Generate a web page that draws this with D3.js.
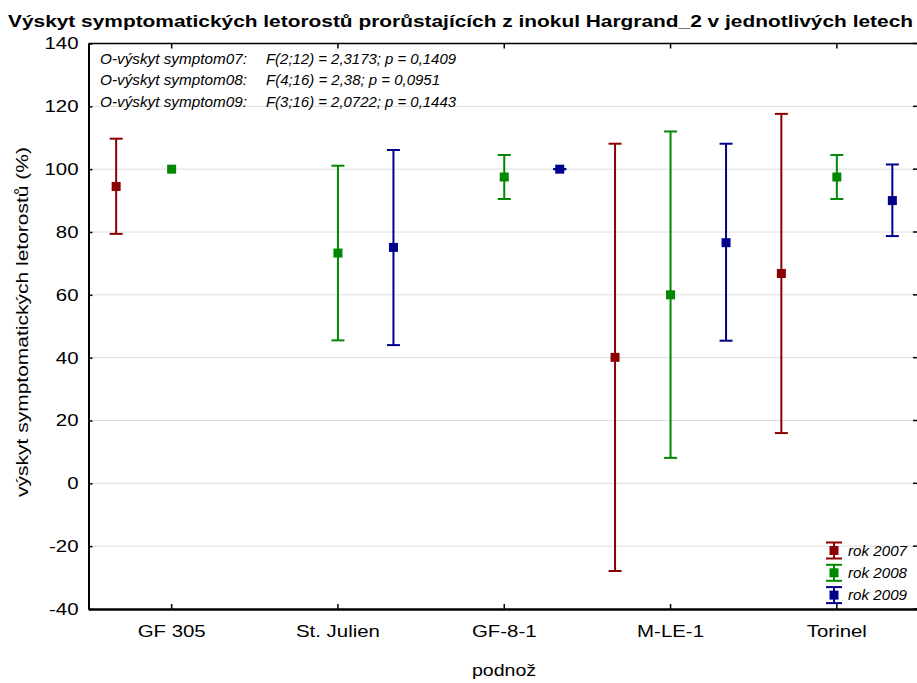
<!DOCTYPE html>
<html>
<head>
<meta charset="utf-8">
<script src="https://cdn.jsdelivr.net/npm/d3@7/dist/d3.min.js"></script>
<style>
    body { margin: 0; background: #fff; }
    text { font-family: "Liberation Sans", Arial, sans-serif; fill: #000; }
</style>
</head>
<body>
<svg id="chart" width="917" height="683"></svg>
<script>
// data
var categories = ["GF 305", "St. Julien", "GF-8-1", "M-LE-1", "Torinel"];
var years = ["rok 2007", "rok 2008", "rok 2009"];
var yTicks = [-40, -20, 0, 20, 40, 60, 80, 100, 120, 140];

var mean2007 = [94.5, null, null, 40.1, 66.8];
var low2007  = [79.4, null, null, -27.9, 16.0];
var high2007 = [109.7, null, null, 108.1, 117.6];

var mean2008 = [100, 73.3, 97.5, 60.0, 97.5];
var low2008  = [null, 45.5, 90.5, 8.1, 90.5];
var high2008 = [null, 101.1, 104.5, 112.0, 104.5];

var mean2009 = [null, 75.1, 100, 76.6, 90.0];
var low2009  = [null, 44.0, 100, 45.4, 78.7];
var high2009 = [null, 106.1, 100, 108.1, 101.5];

var statLabels = ["O-výskyt symptom07:", "O-výskyt symptom08:", "O-výskyt symptom09:"];
var statValues = ["F(2;12) = 2,3173; p = 0,1409", "F(4;16) = 2,38; p = 0,0951", "F(3;16) = 2,0722; p = 0,1443"];

var colors = ["#8b0000", "#008800", "#00008b"];

var series = [
    { name: years[0], mean: mean2007, low: low2007, high: high2007, color: colors[0] },
    { name: years[1], mean: mean2008, low: low2008, high: high2008, color: colors[1] },
    { name: years[2], mean: mean2009, low: low2009, high: high2009, color: colors[2] }
];

var svg = d3.select("#chart");
var margin = { top: 43.5, left: 88.5, right: 920, bottom: 609 };

// stretch text horizontally like the original export
function stretch(sel, k) {
    sel.each(function () {
        var w = this.getComputedTextLength();
        d3.select(this).attr("textLength", w * k).attr("lengthAdjust", "spacingAndGlyphs");
    });
}
function fitTo(sel, w) {
    sel.attr("textLength", w).attr("lengthAdjust", "spacingAndGlyphs");
}

var x = d3.scaleBand().domain(categories).range([margin.left, margin.right]).padding(0);
var xs = d3.scalePoint().domain(years).range([-55.5, 55.5]);
var y = d3.scaleLinear().domain([-40, 140]).range([margin.bottom, margin.top]);

// gridlines
svg.append("g")
    .selectAll("line")
    .data(yTicks.filter(function (d) { return d > -40 && d < 140; }))
    .enter()
    .append("line")
    .attr("x1", margin.left).attr("x2", margin.right)
    .attr("y1", function (d) { return y(d); })
    .attr("y2", function (d) { return y(d); })
    .attr("stroke", "#dcdcdc")
    .attr("stroke-width", 1);

// top frame + category ticks
svg.append("line")
    .attr("x1", margin.left).attr("x2", margin.right)
    .attr("y1", margin.top).attr("y2", margin.top)
    .attr("stroke", "#000").attr("stroke-width", 1.5);
svg.append("g").selectAll("line").data(categories).enter().append("line")
    .attr("x1", function (d) { return x(d) + x.bandwidth() / 2; })
    .attr("x2", function (d) { return x(d) + x.bandwidth() / 2; })
    .attr("y1", margin.top).attr("y2", margin.top + 5)
    .attr("stroke", "#000").attr("stroke-width", 1.5);

// right ticks
svg.append("g").selectAll("line").data(yTicks).enter().append("line")
    .attr("x1", 913).attr("x2", 919)
    .attr("y1", function (d) { return y(d); })
    .attr("y2", function (d) { return y(d); })
    .attr("stroke", "#000").attr("stroke-width", 1.5);

// Y axis (plain hyphen for negatives, as in the original)
var gy = svg.append("g")
    .attr("transform", "translate(" + margin.left + ",0)")
    .call(d3.axisLeft(y).tickValues(yTicks).tickFormat(function (d) { return String(d); })
        .tickSizeInner(-4).tickSizeOuter(0).tickPadding(10));
gy.select(".domain").attr("stroke", "#000").attr("stroke-width", 2);
gy.selectAll(".tick line").attr("stroke", "#000").attr("stroke-width", 1.5);
gy.selectAll(".tick text").style("font-size", "17px").attr("fill", "#000");
stretch(gy.selectAll(".tick text"), 1.2);

// X axis
var gx = svg.append("g")
    .attr("transform", "translate(0," + margin.bottom + ")")
    .call(d3.axisBottom(x).tickSizeInner(-5).tickSizeOuter(0).tickPadding(16));
gx.select(".domain").attr("stroke", "#000").attr("stroke-width", 2.5);
gx.selectAll(".tick line").attr("stroke", "#000").attr("stroke-width", 1.5);
gx.selectAll(".tick text").style("font-size", "17px").attr("fill", "#000");
stretch(gx.selectAll(".tick text"), 1.2);

// axis titles
var xt = svg.append("text")
    .attr("x", 504).attr("y", 676)
    .attr("text-anchor", "middle")
    .style("font-size", "17px")
    .text("podnož");
stretch(xt, 1.15);

var yt = svg.append("text")
    .attr("transform", "translate(28,322) rotate(-90)")
    .attr("text-anchor", "middle")
    .style("font-size", "17px")
    .text("výskyt symptomatických letorostů (%)");
fitTo(yt, 350);

// title
var tt = svg.append("text")
    .attr("x", 460.5).attr("y", 27)
    .attr("text-anchor", "middle")
    .style("font-size", "16px")
    .style("font-weight", "bold")
    .text("Výskyt symptomatických letorostů prorůstajících z inokul Hargrand_2 v  jednotlivých letech");
fitTo(tt, 905);

// statistics annotation
var statY = [63.5, 85, 107];
var statW = [190, 174, 190];
statLabels.forEach(function (s, i) {
    fitTo(svg.append("text").attr("x", 100).attr("y", statY[i])
        .style("font-size", "14px").style("font-style", "italic").text(s), 147);
    fitTo(svg.append("text").attr("x", 266).attr("y", statY[i])
        .style("font-size", "14px").style("font-style", "italic").text(statValues[i]), statW[i]);
});

// error bars and means
var capW = 6.5, sq = 9;
series.forEach(function (s) {
    var g = svg.append("g");
    var rows = categories.map(function (c, i) {
        return { cat: c, mean: s.mean[i], low: s.low[i], high: s.high[i] };
    }).filter(function (d) { return d.mean !== null; });
    var cx = function (d) { return x(d.cat) + x.bandwidth() / 2 + xs(s.name); };

    var eb = rows.filter(function (d) { return d.low !== null; });
    g.selectAll(".v").data(eb).enter().append("line")
        .attr("x1", cx).attr("x2", cx)
        .attr("y1", function (d) { return y(d.low); })
        .attr("y2", function (d) { return y(d.high); })
        .attr("stroke", s.color).attr("stroke-width", 2);
    ["low", "high"].forEach(function (k) {
        g.selectAll(".c" + k).data(eb).enter().append("line")
            .attr("x1", function (d) { return cx(d) - capW; })
            .attr("x2", function (d) { return cx(d) + capW; })
            .attr("y1", function (d) { return y(d[k]); })
            .attr("y2", function (d) { return y(d[k]); })
            .attr("stroke", s.color).attr("stroke-width", 2);
    });
    g.selectAll("rect").data(rows).enter().append("rect")
        .attr("x", function (d) { return cx(d) - sq / 2; })
        .attr("y", function (d) { return y(d.mean) - sq / 2; })
        .attr("width", sq).attr("height", sq)
        .attr("fill", s.color);
});

// legend
var lg = svg.append("g").selectAll("g").data(series).enter().append("g")
    .attr("transform", function (d, i) { return "translate(834," + (550.5 + i * 22.3) + ")"; });
lg.append("line").attr("x1", 0).attr("x2", 0).attr("y1", -8).attr("y2", 8)
    .attr("stroke", function (d) { return d.color; }).attr("stroke-width", 2);
lg.append("line").attr("x1", -8).attr("x2", 8).attr("y1", -8).attr("y2", -8)
    .attr("stroke", function (d) { return d.color; }).attr("stroke-width", 2);
lg.append("line").attr("x1", -8).attr("x2", 8).attr("y1", 8).attr("y2", 8)
    .attr("stroke", function (d) { return d.color; }).attr("stroke-width", 2);
lg.append("rect").attr("x", -4.5).attr("y", -4.5).attr("width", 9).attr("height", 9)
    .attr("fill", function (d) { return d.color; });
var lt = lg.append("text").attr("x", 14).attr("y", 5)
    .style("font-size", "14px").style("font-style", "italic")
    .text(function (d) { return d.name; });
fitTo(lt, 59);
</script>
</body>
</html>
